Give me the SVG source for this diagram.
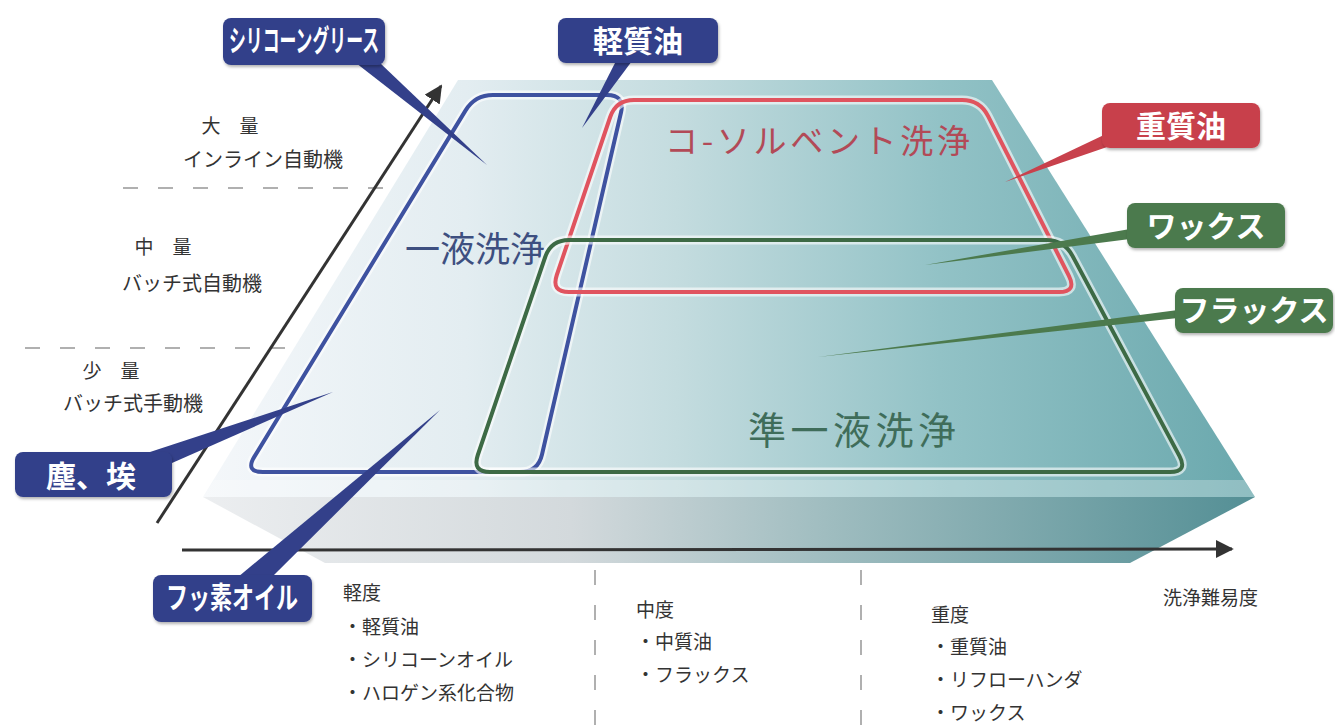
<svg xmlns="http://www.w3.org/2000/svg" width="1335" height="725" viewBox="0 0 1335 725">
  <defs>
    <linearGradient id="topGrad" x1="0" y1="0" x2="1" y2="0" gradientUnits="objectBoundingBox">
      <stop offset="0" stop-color="#f4f7fa"/>
      <stop offset="0.25" stop-color="#e3edf1"/>
      <stop offset="0.45" stop-color="#c4dcdf"/>
      <stop offset="0.7" stop-color="#92c2c6"/>
      <stop offset="1" stop-color="#6aa8ad"/>
    </linearGradient>
    <linearGradient id="frontGrad" x1="0" y1="0" x2="1" y2="0">
      <stop offset="0" stop-color="#eceef0"/>
      <stop offset="0.35" stop-color="#d3d9dc"/>
      <stop offset="0.6" stop-color="#9ebcbf"/>
      <stop offset="1" stop-color="#548f95"/>
    </linearGradient>
    <marker id="arrow" viewBox="0 0 10 10" refX="9" refY="5" markerWidth="6" markerHeight="6" orient="auto" markerUnits="strokeWidth">
      <path d="M0,0 L10,5 L0,10 Z" fill="#333"/>
    </marker>
    <filter id="shadow" x="-10%" y="-10%" width="130%" height="140%">
      <feDropShadow dx="1" dy="2" stdDeviation="1.5" flood-color="#000" flood-opacity="0.3"/>
    </filter>
  </defs>
  <style>
    .jp { font-family: "Noto Sans CJK JP", "Noto Sans", sans-serif; }
    .axislbl { font-size: 19px; fill: #333; }
    .bottom { font-size: 19px; fill: #333; }
    .tagtxt { font-size: 30px; fill: #fff; font-weight: bold; }
    .navy { fill: #33408a; }
    .red { fill: #c8414c; }
    .green { fill: #4c7a4d; }
    .halo { fill: none; stroke: #ffffff; stroke-opacity: 0.6; stroke-width: 9; }
    .dash { stroke: #b0b0b0; stroke-width: 2; stroke-dasharray: 15 20; fill: none; }
    .axis { stroke: #333; stroke-width: 3; fill: none; }
  </style>
  <rect width="1335" height="725" fill="#ffffff"/>

  <g id="slab">
    <polygon points="203,497 1255,497 1130,563 325,563" fill="url(#frontGrad)"/>
    <polygon points="458,80 992,80 1255,497 203,497" fill="url(#topGrad)"/>
    <polygon points="214,480 1244,480 1255,497 203,497" fill="#ffffff" fill-opacity="0.25"/>
  </g>

  <g id="guides">
    <line class="dash" x1="123" y1="188" x2="400" y2="188"/>
    <line class="dash" x1="25" y1="348" x2="297" y2="348"/>
    <line class="dash" x1="595" y1="570" x2="595" y2="725"/>
    <line class="dash" x1="861" y1="570" x2="861" y2="725"/>
  </g>

  <g id="region-ichieki">
    <path class="halo" d="M 493,95 L 607,95 Q 625,95 621,112.5 L 542,454.5 Q 538,472 520,472 L 263,472 Q 245,472 254.4,456.6 L 465.6,110.4 Q 475,95 493,95 Z"/>
    <path d="M 493,95 L 607,95 Q 625,95 621,112.5 L 542,454.5 Q 538,472 520,472 L 263,472 Q 245,472 254.4,456.6 L 465.6,110.4 Q 475,95 493,95 Z" fill="none" stroke="#3e52a0" stroke-width="4"/>
    <text class="jp" x="405" y="262" font-size="35" fill="#3d4f80">一液洗浄</text>
  </g>

  <g id="region-cosolvent">
    <path class="halo" d="M 634,100 L 962,100 Q 980,100 988.1,116.1 L 1068.9,275.9 Q 1077,292 1059,292 L 569,292 Q 551,292 556.8,275 L 610.2,117 Q 616,100 634,100 Z"/>
    <path d="M 634,100 L 962,100 Q 980,100 988.1,116.1 L 1068.9,275.9 Q 1077,292 1059,292 L 569,292 Q 551,292 556.8,275 L 610.2,117 Q 616,100 634,100 Z" fill="none" stroke="#e0545f" stroke-width="4"/>
    <text class="jp" x="665" y="153" font-size="33" fill="#b24a57" textLength="305" lengthAdjust="spacing">コ-ソルベント洗浄</text>
  </g>

  <g id="region-junichieki">
    <path class="halo" d="M 569,240 L 1046,240 Q 1064,240 1072.5,255.9 L 1179.5,456.1 Q 1188,472 1170,472 L 490,472 Q 472,472 477.8,455 L 545.2,257 Q 551,240 569,240 Z"/>
    <path d="M 569,240 L 1046,240 Q 1064,240 1072.5,255.9 L 1179.5,456.1 Q 1188,472 1170,472 L 490,472 Q 472,472 477.8,455 L 545.2,257 Q 551,240 569,240 Z" fill="none" stroke="#3d6a45" stroke-width="4"/>
    <text class="jp" x="748" y="444" font-size="38" fill="#3f6d5a" textLength="208" lengthAdjust="spacing">準一液洗浄</text>
  </g>

  <g id="connectors">
    <line class="axis" x1="157" y1="523" x2="441" y2="86" marker-end="url(#arrow)"/>
    <line class="axis" x1="182" y1="550" x2="1232" y2="549" marker-end="url(#arrow)"/>
    <polygon class="navy" points="356,63 380,63 487,165"/>
    <polygon class="navy" points="616,61 632,61 582,128"/>
    <polygon class="red" points="1106,134 1110,146 1005,182"/>
    <polygon class="green" points="1130,229 1130,239 925,265"/>
    <polygon class="green" points="1178,310 1178,318 818,357"/>
    <polygon class="navy" points="150,452 172,463 333,392"/>
    <polygon class="navy" points="238,577 272,577 440,410"/>
  </g>

  <g id="tag-silicone-grease">
    <rect x="223" y="18" width="162" height="47" rx="8" class="navy" filter="url(#shadow)"/>
    <text class="jp tagtxt" x="304" y="51" font-size="24" text-anchor="middle" textLength="150" lengthAdjust="spacingAndGlyphs">シリコーングリース</text>
  </g>
  <g id="tag-light-oil">
    <rect x="558" y="18" width="160" height="45" rx="8" class="navy" filter="url(#shadow)"/>
    <text class="jp tagtxt" x="638" y="52" text-anchor="middle">軽質油</text>
  </g>
  <g id="tag-heavy-oil">
    <rect x="1102" y="103" width="158" height="45" rx="8" class="red" filter="url(#shadow)"/>
    <text class="jp tagtxt" x="1181" y="137" text-anchor="middle">重質油</text>
  </g>
  <g id="tag-wax">
    <rect x="1127" y="203" width="158" height="45" rx="8" class="green" filter="url(#shadow)"/>
    <text class="jp tagtxt" x="1206" y="237" text-anchor="middle" font-weight="normal">ワックス</text>
  </g>
  <g id="tag-flux">
    <rect x="1175" y="288" width="158" height="45" rx="8" class="green" filter="url(#shadow)"/>
    <text class="jp tagtxt" x="1254" y="321" font-size="28" text-anchor="middle" font-weight="normal">フラックス</text>
  </g>
  <g id="tag-dust">
    <rect x="15" y="452" width="157" height="45" rx="8" class="navy" filter="url(#shadow)"/>
    <text class="jp tagtxt" x="91" y="487" font-size="32" text-anchor="middle">塵、埃</text>
  </g>
  <g id="tag-fluorine-oil">
    <rect x="153" y="575" width="159" height="47" rx="8" class="navy" filter="url(#shadow)"/>
    <text class="jp tagtxt" x="232" y="608" font-size="25" text-anchor="middle" textLength="132" lengthAdjust="spacingAndGlyphs">フッ素オイル</text>
  </g>

  <g id="volume-labels" class="jp axislbl">
    <text x="230" y="133" text-anchor="middle">大　量</text>
    <text x="263" y="167" text-anchor="middle" font-size="20">インライン自動機</text>
    <text x="163" y="254" text-anchor="middle">中　量</text>
    <text x="192" y="291" text-anchor="middle" font-size="20">バッチ式自動機</text>
    <text x="111" y="378" text-anchor="middle">少　量</text>
    <text x="133" y="411" text-anchor="middle" font-size="20">バッチ式手動機</text>
  </g>

  <g id="difficulty-labels" class="jp bottom">
    <text x="343" y="600">軽度</text>
    <text x="343" y="634">・軽質油</text>
    <text x="343" y="667">・シリコーンオイル</text>
    <text x="343" y="700">・ハロゲン系化合物</text>
    <text x="636" y="617">中度</text>
    <text x="636" y="649">・中質油</text>
    <text x="636" y="682">・フラックス</text>
    <text x="931" y="622">重度</text>
    <text x="931" y="654">・重質油</text>
    <text x="931" y="687">・リフローハンダ</text>
    <text x="931" y="720">・ワックス</text>
    <text x="1163" y="605">洗浄難易度</text>
  </g>
</svg>
